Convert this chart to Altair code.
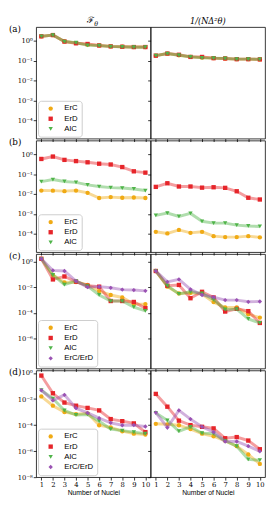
import altair as alt
import pandas as pd

nuclei = list(range(1, 11))
names3 = ["ErC", "ErD", "AlC"]
names4 = ["ErC", "ErD", "AlC", "ErC/ErD"]

# (a) F_theta
aF_ErC = [1.7, 1.97, 0.93, 0.78, 0.65, 0.59, 0.53, 0.51, 0.49, 0.49]
aF_ErD = [1.7, 1.97, 0.93, 0.76, 0.70, 0.59, 0.53, 0.51, 0.49, 0.49]
aF_AlC = [1.7, 1.97, 0.93, 0.82, 0.60, 0.58, 0.52, 0.50, 0.48, 0.48]
# (a) 1/(N d2theta)
aI_ErC = [0.18, 0.23, 0.19, 0.156, 0.145, 0.135, 0.13, 0.12, 0.12, 0.117]
aI_ErD = [0.18, 0.23, 0.20, 0.156, 0.155, 0.135, 0.13, 0.12, 0.12, 0.117]
aI_AlC = [0.18, 0.23, 0.19, 0.158, 0.14, 0.135, 0.13, 0.12, 0.12, 0.117]
# (b)
bF_ErC = [0.015, 0.0148, 0.014, 0.015, 0.0115, 0.0063, 0.007, 0.0065, 0.0067, 0.0063]
bF_ErD = [0.59, 0.78, 0.53, 0.46, 0.40, 0.34, 0.31, 0.23, 0.14, 0.12]
bF_AlC = [0.042, 0.054, 0.043, 0.039, 0.029, 0.024, 0.021, 0.020, 0.018, 0.015]
bI_ErC = [1.24e-4, 1.03e-4, 1.54e-4, 1.1e-4, 1.24e-4, 7.5e-5, 6.7e-5, 6.7e-5, 7.5e-5, 6.5e-5]
bI_ErD = [0.023, 0.035, 0.024, 0.024, 0.021, 0.022, 0.0205, 0.0138, 0.0065, 0.0053]
bI_AlC = [8.3e-4, 1.1e-3, 7.4e-4, 1.05e-3, 4.2e-4, 3.4e-4, 3.4e-4, 2.7e-4, 2.45e-4, 2.3e-4]
# (c)
cF_ErC = [1.6, 0.09, 0.023, 0.025, 0.015, 0.005, 2.5e-3, 1.6e-3, 4.9e-4, 4.9e-4]
cF_ErD = [1.6, 0.04, 0.068, 0.027, 0.013, 0.011, 8.5e-4, 8.5e-4, 7.2e-4, 2.4e-4]
cF_AlC = [1.6, 0.09, 0.016, 0.03, 0.012, 2.5e-3, 8.5e-4, 8.5e-4, 2.8e-4, 1.45e-4]
cF_EE = [1.6, 0.2, 0.18, 0.03, 0.01, 0.011, 0.009, 0.0065, 0.006, 0.0052]
cI_ErC = [0.18, 0.011, 3.3e-3, 3.7e-3, 3e-3, 7e-4, 2.7e-4, 2.7e-4, 8e-5, 4.4e-5]
cI_ErD = [0.18, 0.013, 0.015, 1.4e-3, 4.4e-3, 1.6e-3, 1.3e-4, 2.1e-4, 1.4e-4, 1.7e-5]
cI_AlC = [0.18, 0.013, 3e-3, 4.4e-3, 3.3e-3, 1.1e-3, 1.9e-4, 2e-4, 3.5e-5, 1.7e-5]
cI_EE = [0.18, 0.026, 0.04, 0.0068, 0.0025, 0.0017, 1e-3, 1e-3, 7.4e-4, 7.8e-4]
# (d)
dF_ErC = [0.016, 3.1e-3, 1e-3, 7e-4, 8e-4, 9.8e-5, 6.6e-5, 3.4e-5, 2.2e-5, 1.9e-5]
dF_ErD = [0.64, 0.028, 5.4e-3, 3.1e-3, 2.1e-3, 1.35e-3, 2.9e-4, 2e-4, 1.35e-4, 2.9e-5]
dF_AlC = [0.048, 0.011, 1.35e-3, 6e-4, 6.6e-4, 2e-4, 5e-5, 3.8e-5, 2.9e-5, 2.2e-5]
dF_EE = [0.048, 7.9e-3, 0.021, 2e-3, 8.7e-4, 3.4e-4, 1.5e-4, 9.8e-5, 1e-4, 7.8e-5]
dI_ErC = [1.26e-4, 1.15e-4, 9.8e-5, 5e-5, 2.2e-5, 1.4e-5, 6.2e-6, 2.4e-6, 5.5e-7, 1.05e-7]
dI_ErD = [0.025, 2.6e-3, 2.2e-4, 1e-4, 7.4e-5, 5.6e-5, 9.8e-6, 1.2e-5, 6.5e-6, 1.4e-6]
dI_AlC = [8.7e-4, 2.3e-4, 3.4e-5, 7.4e-5, 2.4e-5, 2.2e-5, 6.2e-6, 2.4e-6, 2.3e-7, 2e-7]
dI_EE = [9.2e-4, 6.6e-5, 1.35e-3, 2.9e-4, 7.4e-5, 2.9e-5, 5.5e-6, 5.5e-6, 2.4e-6, 9.6e-7]

row_labels = ["(a)", "(b)", "(c)", "(d)"]
ticks_ab = [1, 1e-1, 1e-2, 1e-3, 1e-4]
ticks_c = [1, 1e-2, 1e-4, 1e-6]
ticks_d = [1, 1e-2, 1e-4, 1e-6, 1e-8]
dom_ab = [1.17e-5, 5.0]
dom_c = [5e-9, 3.7]
dom_d = [1e-8, 1.58]

COLORS = ["#f0aa14", "#e6252a", "#4fb449", "#9a52b3"]
SHAPES = ["circle", "square", "triangle-down", "diamond"]

SERIF = "DejaVu Serif"
SANS = "Liberation Sans"

SUP = "['\u2070','\u00b9','\u00b2','\u00b3','\u2074','\u2075','\u2076','\u2077','\u2078','\u2079']"
LABEL_EXPR = ("'10' + (round(log(datum.value)/LN10) < 0 ? '\u207b' : '') + "
              + SUP + "[abs(round(log(datum.value)/LN10))]")

LW, RW = 118, 118
HEIGHTS = [115, 115, 118, 110]


def make_df(cols, names):
    rows = []
    for name, vals in zip(names, cols):
        for n, v in zip(nuclei, vals):
            rows.append({"n": n, "v": v, "s": name})
    return pd.DataFrame(rows)


def panel(df, names, ydom, yticks, w, h, is_left, is_bottom, row_label=None, col_title=None):
    k = len(names)
    xs = alt.X("n:Q", scale=alt.Scale(domain=[0.55, 10.45], nice=False, zero=False),
               axis=alt.Axis(values=nuclei, labels=is_bottom, ticks=True, tickSize=3,
                             domain=False, grid=False,
                             title="Number of Nuclei" if is_bottom else None,
                             labelFont=SERIF, labelFontSize=7, labelPadding=1,
                             titleFont=SANS, titleFontSize=7, titleFontWeight="normal",
                             titlePadding=1, labelFlush=False))
    ys = alt.Y("v:Q", scale=alt.Scale(type="log", domain=ydom, nice=False),
               axis=alt.Axis(values=yticks, labels=is_left, labelExpr=LABEL_EXPR, ticks=True,
                             tickSize=3, domain=False, grid=False, title=None,
                             labelFont=SERIF, labelFontSize=7, labelPadding=1))
    if is_left:
        leg = alt.Legend(orient="bottom-left", title=None, fillColor="white",
                         strokeColor="#cccccc", cornerRadius=3, padding=4, offset=2,
                         labelFont=SANS, labelFontSize=8, symbolSize=20, rowPadding=2.5,
                         symbolOffset=5, labelOffset=10, symbolStrokeWidth=0)
    else:
        leg = None
    base = alt.Chart(df)
    layers = []
    for j, name in enumerate(names):
        sub = base.transform_filter(alt.datum.s == name)
        layers.append(sub.mark_line(color=COLORS[j], strokeWidth=3, opacity=0.45).encode(
            x=xs, y=ys))
        layers.append(sub.mark_point(filled=True, size=20, opacity=1).encode(
            x=xs, y=ys,
            color=alt.Color("s:N", scale=alt.Scale(domain=names, range=COLORS[:k]), legend=leg),
            shape=alt.Shape("s:N", scale=alt.Scale(domain=names, range=SHAPES[:k]), legend=leg)))
    if row_label:
        layers.append(alt.Chart(pd.DataFrame({"t": [row_label]})).mark_text(
            font=SERIF, fontSize=9, align="left", baseline="top").encode(
            text="t:N", x=alt.value(-28), y=alt.value(-2)))
    if col_title == "F":
        layers.append(alt.Chart(pd.DataFrame({"t": ["\u2131"]})).mark_text(
            font=SERIF, fontSize=9, align="right", baseline="bottom").encode(
            text="t:N", x=alt.value(w / 2 + 1), y=alt.value(-2)))
        layers.append(alt.Chart(pd.DataFrame({"t": ["\u03b8"]})).mark_text(
            font=SERIF, fontSize=6.5, fontStyle="italic", align="left", baseline="bottom").encode(
            text="t:N", x=alt.value(w / 2 + 1), y=alt.value(0)))
    elif col_title:
        layers.append(alt.Chart(pd.DataFrame({"t": [col_title]})).mark_text(
            font=SERIF, fontSize=8.5, fontStyle="italic", align="center", baseline="bottom").encode(
            text="t:N", x=alt.value(w / 2), y=alt.value(-1)))
    return alt.layer(*layers).properties(width=w, height=h)


rows_spec = [
    ([aF_ErC, aF_ErD, aF_AlC], [aI_ErC, aI_ErD, aI_AlC], names3, dom_ab, ticks_ab),
    ([bF_ErC, bF_ErD, bF_AlC], [bI_ErC, bI_ErD, bI_AlC], names3, dom_ab, ticks_ab),
    ([cF_ErC, cF_ErD, cF_AlC, cF_EE], [cI_ErC, cI_ErD, cI_AlC, cI_EE], names4, dom_c, ticks_c),
    ([dF_ErC, dF_ErD, dF_AlC, dF_EE], [dI_ErC, dI_ErD, dI_AlC, dI_EE], names4, dom_d, ticks_d),
]

panels = []
for i, (fcols, icols, names, dom, yt) in enumerate(rows_spec):
    bottom = i == 3
    panels.append(panel(make_df(fcols, names), names, dom, yt, LW, HEIGHTS[i], True, bottom,
                        row_label=row_labels[i], col_title="F" if i == 0 else None))
    panels.append(panel(make_df(icols, names), names, dom, yt, RW, HEIGHTS[i], False, bottom,
                        col_title="1/(N\u0394\u00b2\u03b8)" if i == 0 else None))

chart = alt.concat(*panels, columns=2, spacing={"row": 2, "column": 0}, bounds="flush").resolve_scale(
    color="independent", shape="independent"
).resolve_legend(
    color="independent", shape="independent"
).properties(padding=0).configure_view(stroke="black", strokeWidth=0.8).configure_axis(
    tickColor="black", tickWidth=0.8, labelColor="black", titleColor="black"
)

chart.save("out.html", embed_options={"renderer": "svg", "actions": False})
